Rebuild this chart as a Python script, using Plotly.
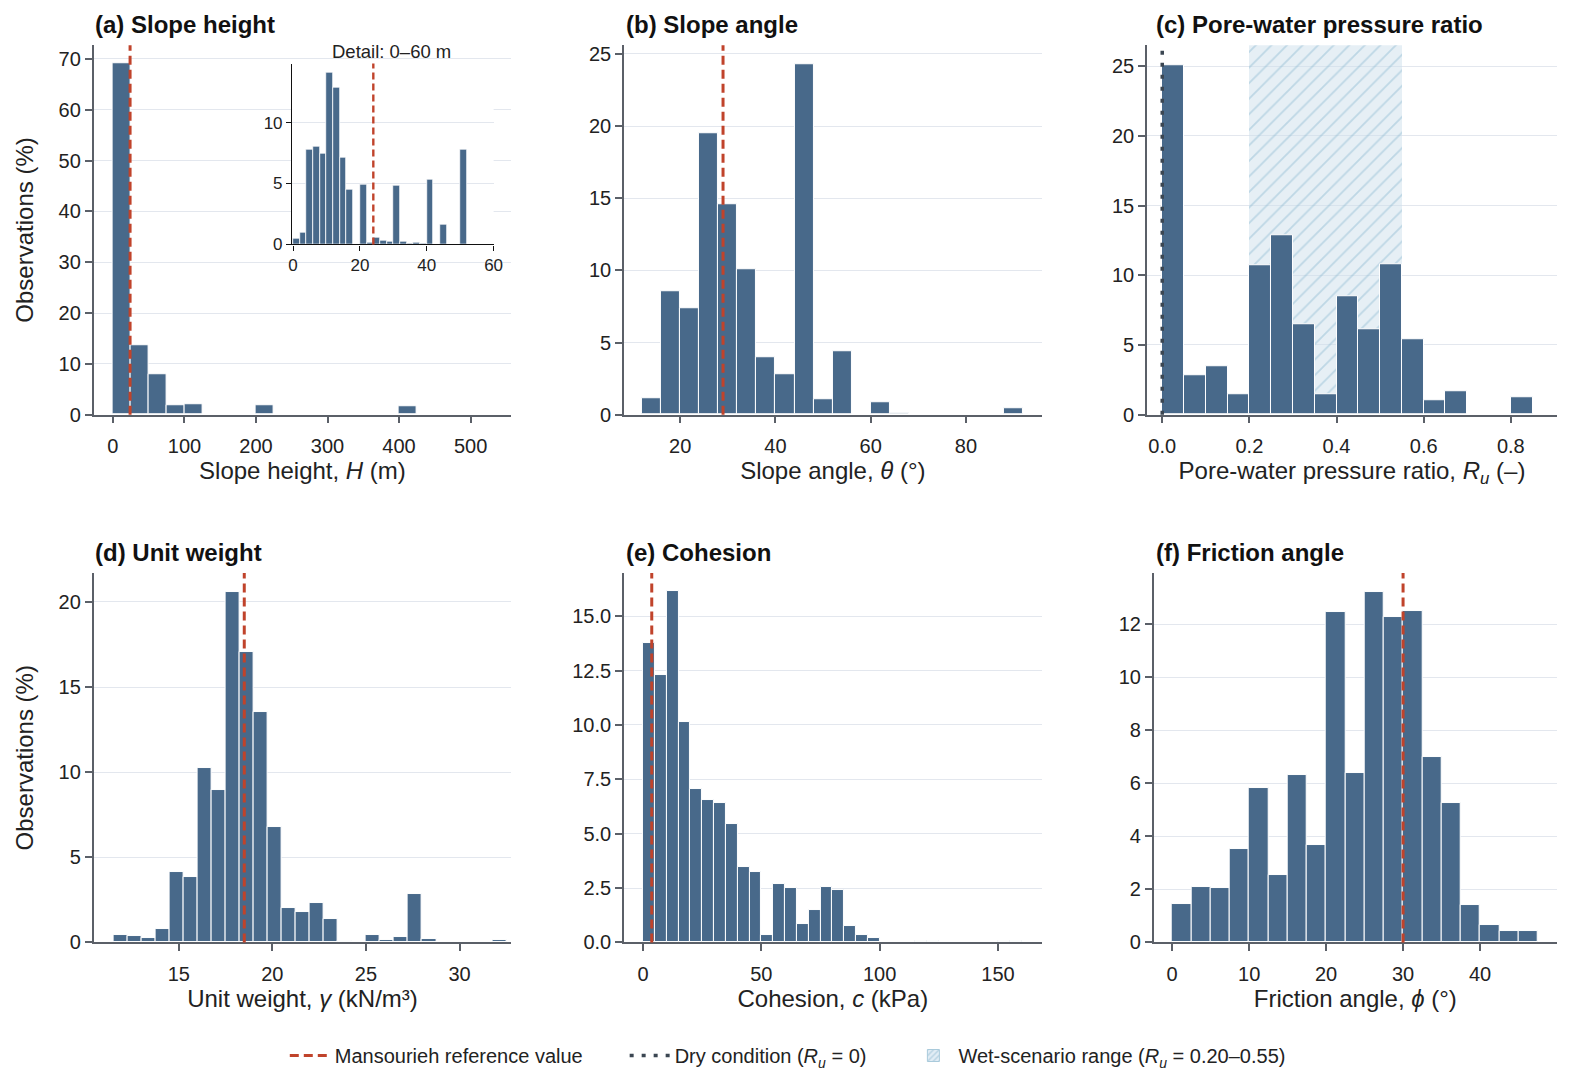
import numpy as np
import plotly.graph_objects as go

# ---------------------------------------------------------------
# histogram data (percent of observations per bin)
# each panel: first bin left edge, bin width, heights
H_LO, H_W = 0, 25
H_PCT = [69.1, 13.6, 7.9, 1.9, 2.0, 0, 0, 0, 1.9, 0, 0, 0, 0, 0, 0, 0, 1.6]

H_IN_LO, H_IN_W = 0, 2
H_IN_PCT = [0.44, 1.0, 7.8, 8.0, 7.5, 14.1, 12.9, 7.1, 4.5, 0, 4.9, 0.15, 0.6,
            0.3, 0.2, 4.8, 0.2, 0.1, 0.15, 0.1, 5.3, 0, 1.6, 0, 0, 7.8]

THETA_LO, THETA_W = 12, 4
THETA_PCT = [1.15, 8.55, 7.4, 19.5, 14.6, 10.1, 4.0, 2.8, 24.3, 1.06, 4.4, 0,
             0.83, 0.1, 0, 0, 0, 0, 0, 0.46]

RU_LO, RU_W = 0, 0.05
RU_PCT = [25.1, 2.8, 3.45, 1.5, 10.7, 12.9, 6.5, 1.5, 8.5, 6.1, 10.8, 5.4,
          1.07, 1.67, 0, 0, 1.28]

GAMMA_LO, GAMMA_W = 11.5, 0.75
GAMMA_PCT = [0.45, 0.39, 0.29, 0.78, 4.14, 3.82, 10.26, 8.94, 20.6, 17.07,
             13.56, 6.79, 2.05, 1.76, 2.34, 1.35, 0.1, 0, 0.45, 0.16, 0.35,
             2.83, 0.2, 0, 0, 0, 0, 0.14]

C_LO, C_W = 0, 5
C_PCT = [13.78, 12.3, 16.13, 10.12, 7.07, 6.56, 6.42, 5.43, 3.48, 3.25, 0.35,
         2.69, 2.49, 0.84, 1.51, 2.55, 2.4, 0.76, 0.35, 0.2, 0, 0, 0, 0.09,
         0.09, 0, 0, 0, 0, 0, 0.06, 0.06]

PHI_LO, PHI_W = 0, 2.5
PHI_PCT = [1.47, 2.1, 2.05, 3.51, 5.84, 2.56, 6.33, 3.66, 12.45, 6.38, 13.24,
           12.29, 12.49, 6.98, 5.27, 1.42, 0.66, 0.43, 0.43]

# Mansourieh reference values
REF_H = 24
REF_THETA = 29
REF_GAMMA = 18.5
REF_C = 3.7
REF_PHI = 30
RU_DRY = 0.0
RU_WET = [0.20, 0.55]

# ---------------------------------------------------------------
BAR = "#48698a"
RED = "#c0432b"
DRY = "#3b4652"
AXC = "#5b6068"
GRID = "#e3e7ee"
FONT = "Liberation Sans, Arial, sans-serif"
OFF = 8  # default body margin of the page
W, H = 1574 - 2 * OFF, 1083 - 2 * OFF
S = 1.011  # small stretch, the snapshot came out slightly shrunk


def px_x(p):
    return min((p * S - OFF) / W, 1.0)


def px_y(p):
    return max(1 - (p * S - OFF) / H, 0.0)


# pixel boxes of the panels in the page (left, right, top, bottom)
boxes = {
    "a": (89.3, 506, 43.3, 414.3),
    "b": (618.3, 1035, 43.3, 414.3),
    "c": (1140, 1563, 43.3, 414.3),
    "d": (89.3, 506, 573.3, 944.3),
    "e": (618.3, 1035, 573.3, 944.3),
    "f": (1146.7, 1563, 573.3, 944.3),
}

panels = [
    # key, title, x title, lo, width, pct, ref, xrange, yrange, xticks, yticks, xfmt, yfmt
    ("a", "(a) Slope height", "Slope height, <i>H</i> (m)", H_LO, H_W, H_PCT, REF_H,
     [-27, 557], [0, 72.7], list(range(0, 501, 100)), list(range(0, 71, 10)), None, None),
    ("b", "(b) Slope angle", "Slope angle, <i>θ</i> (°)", THETA_LO, THETA_W, THETA_PCT, REF_THETA,
     [8.2, 95.9], [0, 25.6], [20, 40, 60, 80], [0, 5, 10, 15, 20, 25], None, None),
    ("c", "(c) Pore-water pressure ratio", "Pore-water pressure ratio, <i>R<sub>u</sub></i> (–)",
     RU_LO, RU_W, RU_PCT, None,
     [-0.035, 0.906], [0, 26.5], [0, 0.2, 0.4, 0.6, 0.8], [0, 5, 10, 15, 20, 25], ".1f", None),
    ("d", "(d) Unit weight", "Unit weight, <i>γ</i> (kN/m³)", GAMMA_LO, GAMMA_W, GAMMA_PCT, REF_GAMMA,
     [10.45, 32.77], [0, 21.7], [15, 20, 25, 30], [0, 5, 10, 15, 20], None, None),
    ("e", "(e) Cohesion", "Cohesion, <i>c</i> (kPa)", C_LO, C_W, C_PCT, REF_C,
     [-8.05, 168.5], [0, 16.98], [0, 50, 100, 150], [0, 2.5, 5, 7.5, 10, 12.5, 15], None, ".1f"),
    ("f", "(f) Friction angle", "Friction angle, <i>ϕ</i> (°)", PHI_LO, PHI_W, PHI_PCT, REF_PHI,
     [-2.4, 50], [0, 13.94], [0, 10, 20, 30, 40], [0, 2, 4, 6, 8, 10, 12], None, None),
]

fig = go.Figure()
layout = {}
title_left = {"a": 89, "b": 618, "c": 1147, "d": 89, "e": 618, "f": 1147}

for i, (key, title, xtitle, lo, bw, pct, ref, xr, yr, xt, yt, xfmt, yfmt) in enumerate(panels, start=1):
    xa = "x" if i == 1 else f"x{i}"
    ya = "y" if i == 1 else f"y{i}"
    l, r, t, b = boxes[key]

    # wet-scenario hatched band drawn first so it sits behind bars
    if key == "c":
        fig.add_trace(go.Bar(
            x=[RU_WET[0]], y=[yr[1]], width=[RU_WET[1] - RU_WET[0]], offset=0,
            xaxis=xa, yaxis=ya,
            marker=dict(color="rgba(205,223,236,0.5)", line=dict(width=0),
                        pattern=dict(shape="/", fgcolor="rgba(130,180,205,0.8)",
                                     bgcolor="rgba(205,223,236,0.5)",
                                     size=11, solidity=0.17)),
            showlegend=False, hoverinfo="skip"))

    lefts = lo + bw * np.arange(len(pct))
    fig.add_trace(go.Bar(
        x=lefts, y=pct, width=bw, offset=0, xaxis=xa, yaxis=ya,
        marker=dict(color=BAR, line=dict(color="white", width=1)),
        showlegend=False))

    if ref is not None:
        fig.add_shape(type="line", x0=ref, x1=ref, xref=xa, y0=0, y1=1,
                      yref=f"{ya} domain", line=dict(color=RED, width=3, dash="9px,5px"))
    if key == "c":
        fig.add_shape(type="line", x0=RU_DRY, x1=RU_DRY, xref=xa, y0=0, y1=1,
                      yref=f"{ya} domain", line=dict(color=DRY, width=3.5, dash="4px,8px"))

    xname = "xaxis" if i == 1 else f"xaxis{i}"
    yname = "yaxis" if i == 1 else f"yaxis{i}"
    layout[xname] = dict(
        domain=[px_x(l), px_x(r)], anchor=ya, range=xr, tickvals=xt, tickformat=xfmt,
        showline=True, linecolor=AXC, linewidth=1.5, ticks="outside", ticklen=7,
        tickcolor=AXC, tickwidth=1.5, showgrid=False, zeroline=False,
        tickfont=dict(size=20, color="#222"), ticklabelstandoff=6,
        title=dict(text=xtitle, font=dict(size=24, color="#222"), standoff=2))
    layout[yname] = dict(
        domain=[px_y(b), px_y(t)], anchor=xa, range=yr, tickvals=yt, tickformat=yfmt,
        showline=True, linecolor=AXC, linewidth=1.5, ticks="outside", ticklen=7,
        tickcolor=AXC, tickwidth=1.5, showgrid=True, gridcolor=GRID, gridwidth=1,
        zeroline=False, tickfont=dict(size=20, color="#222"))
    if key in ("a", "d"):
        layout[yname]["title"] = dict(text="Observations (%)", font=dict(size=24, color="#222"),
                                      standoff=18)

    fig.add_annotation(text=f"<b>{title}</b>", xref="paper", yref="paper",
                       x=px_x(title_left[key]), y=px_y(t - 21), xanchor="left", yanchor="middle",
                       showarrow=False, font=dict(size=24, color="#111"))

# inset: detail of slope height 0-60 m
in_lefts = H_IN_LO + H_IN_W * np.arange(len(H_IN_PCT))
fig.add_trace(go.Bar(
    x=in_lefts, y=H_IN_PCT, width=H_IN_W, offset=0, xaxis="x7", yaxis="y7",
    marker=dict(color=BAR, line=dict(color="white", width=0.8)), showlegend=False))
fig.add_shape(type="line", x0=REF_H, x1=REF_H, xref="x7", y0=0, y1=1, yref="y7 domain",
              line=dict(color=RED, width=2.4, dash="7px,4px"))
layout["xaxis7"] = dict(
    domain=[px_x(287.3), px_x(488.3)], anchor="y7", range=[-0.3, 60], tickvals=[0, 20, 40, 60],
    showline=True, linecolor="#111", linewidth=1.3, ticks="outside", ticklen=5,
    tickcolor="#111", showgrid=False, zeroline=False, tickfont=dict(size=17, color="#222"))
layout["yaxis7"] = dict(
    domain=[px_y(243.3), px_y(61.7)], anchor="x7", range=[0, 14.85], tickvals=[0, 5, 10],
    showline=True, linecolor="#111", linewidth=1.3, ticks="outside", ticklen=5,
    tickcolor="#111", showgrid=True, gridcolor=GRID, zeroline=False,
    tickfont=dict(size=17, color="#222"))
fig.add_annotation(text="Detail: 0–60 m", xref="paper", yref="paper", x=px_x(386), y=px_y(50),
                   xanchor="center", yanchor="middle", showarrow=False,
                   font=dict(size=18.5, color="#222"))

# legend-only entries, each in its own legend so they can be spaced like the original
fig.add_trace(go.Scatter(x=[None], y=[None], mode="lines", name="Mansourieh reference value",
                         line=dict(color=RED, width=3, dash="9px,5px"), legend="legend"))
fig.add_trace(go.Scatter(x=[None], y=[None], mode="lines", name="Dry condition (<i>R<sub>u</sub></i> = 0)",
                         line=dict(color=DRY, width=3.5, dash="4px,8px"), legend="legend2"))
fig.add_trace(go.Bar(x=[None], y=[None], name="Wet-scenario range (<i>R<sub>u</sub></i> = 0.20–0.55)",
                     marker=dict(color="#e2edf5", line=dict(color="#a9cadb", width=1),
                                 pattern=dict(shape="/", fgcolor="#88b6cd", bgcolor="#e2edf5",
                                              size=5, solidity=0.35)),
                     legend="legend3"))

leg = dict(orientation="h", y=px_y(1058), xanchor="left", yanchor="middle",
           font=dict(size=20, color="#222"), itemwidth=40, bgcolor="rgba(0,0,0,0)")

fig.update_layout(
    width=W, height=H, margin=dict(l=0, r=0, t=0, b=0),
    paper_bgcolor="white", plot_bgcolor="white", barmode="overlay", bargap=0,
    font=dict(family=FONT, color="#222"),
    legend=dict(leg, x=px_x(280)),
    legend2=dict(leg, x=px_x(619)),
    legend3=dict(leg, x=px_x(902)),
    **layout)

fig.write_html("out.html")
